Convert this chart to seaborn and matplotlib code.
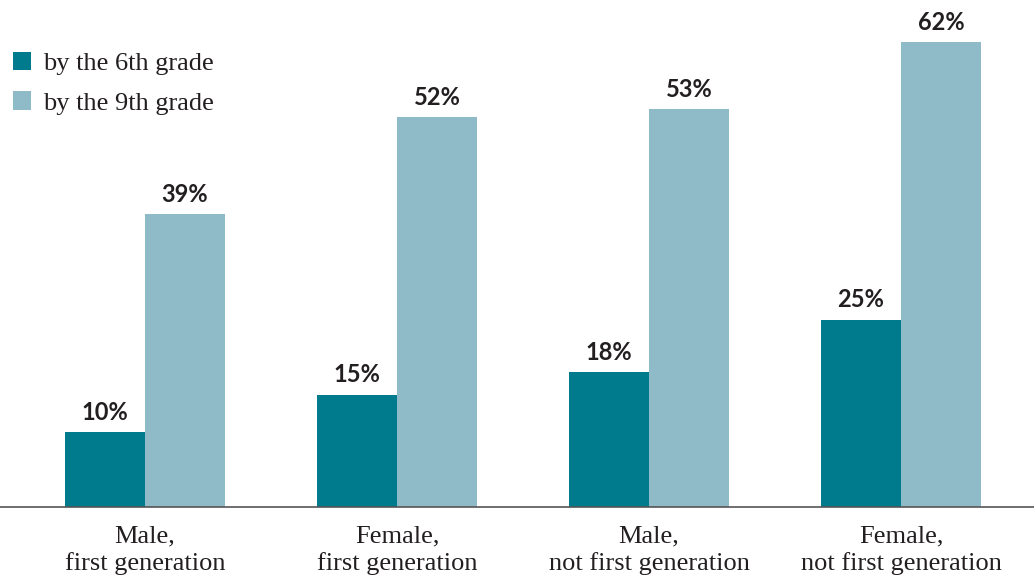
import matplotlib
matplotlib.use("Agg")
import matplotlib.pyplot as plt
import seaborn as sns
import pandas as pd

categories = ["Male,\nfirst generation", "Female,\nfirst generation",
              "Male,\nnot first generation", "Female,\nnot first generation"]
series = ["by the 6th grade", "by the 9th grade"]
grade6 = [10, 15, 18, 25]
grade9 = [39, 52, 53, 62]

df = pd.DataFrame({
    "category": categories * 2,
    "series": [series[0]] * 4 + [series[1]] * 4,
    "value": grade6 + grade9,
})

sns.set_theme(style="white")
plt.rcParams['font.family'] = ['Liberation Serif', 'DejaVu Serif']

fig = plt.figure(figsize=(10.34, 5.77), dpi=100)
ax = fig.add_axes([0, 70 / 577, 1, 507 / 577])

palette = {series[0]: "#007A8D", series[1]: "#8FBAC8"}
sns.barplot(data=df, x="category", y="value", hue="series", palette=palette,
            width=0.635, saturation=1, ax=ax, linewidth=0)

for cont in ax.containers:
    ax.bar_label(cont, labels=[f"{int(round(b.get_height()))}%" for b in cont],
                 padding=6, fontsize=17, fontweight="bold",
                 family=["Lato", "DejaVu Sans"], color="#231F20")

ax.set_xlim(-145 / 252, (1034 - 145) / 252)
ax.set_ylim(0, 507 / 7.5)
ax.set_xlabel("")
ax.set_ylabel("")
ax.set_yticks([])
ax.tick_params(axis="x", length=0, pad=13, labelsize=19, colors="#231F20")
for lab in ax.get_xticklabels():
    lab.set_linespacing(1.3)
for s in ["top", "left", "right"]:
    ax.spines[s].set_visible(False)
ax.spines["bottom"].set_color("#555555")
ax.spines["bottom"].set_linewidth(1.2)

handles, labels = ax.get_legend_handles_labels()
ax.legend(handles, labels, loc="upper left",
          bbox_to_anchor=(13 / 1034, 1 - 52 / 577), bbox_transform=fig.transFigure,
          borderaxespad=0, borderpad=0,
          frameon=False, fontsize=19, handlelength=0.68, handleheight=0.68,
          handletextpad=0.45, labelspacing=0.61, labelcolor="#231F20")

fig.savefig("out.png", dpi=100)
